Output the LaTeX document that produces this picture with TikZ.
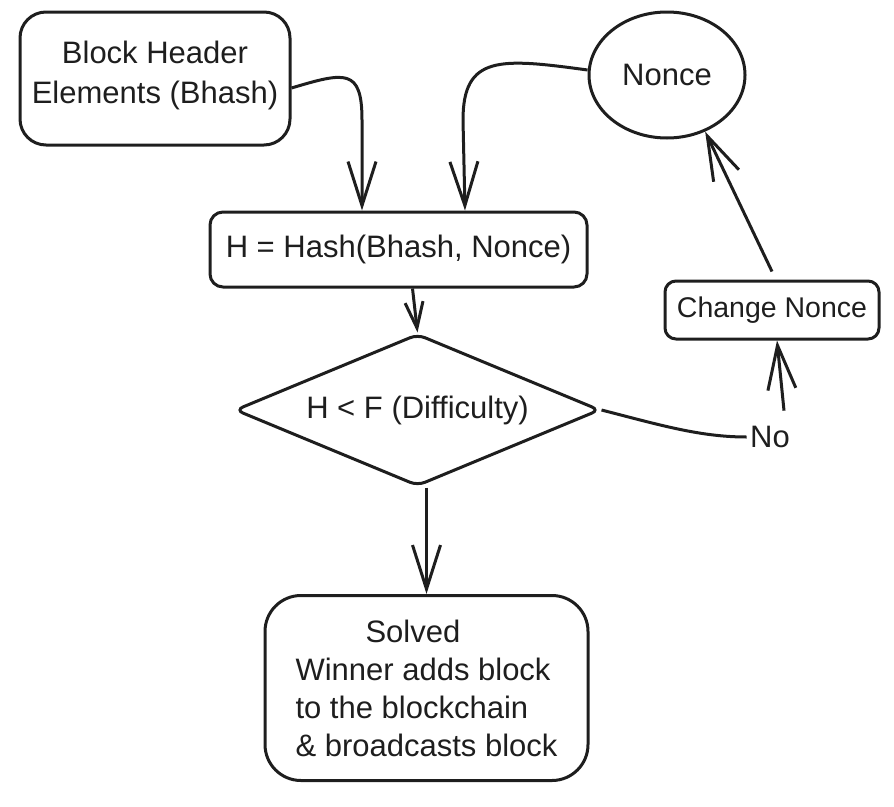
\documentclass[tikz,border=0pt]{standalone}
\usepackage{fontspec}
\setmainfont{Liberation Sans}
\usetikzlibrary{shapes.geometric,arrows.meta}
\definecolor{ink}{HTML}{1E1E1E}
\tikzset{
  every node/.style={font=\fontsize{31}{38}\selectfont, text=ink},
  box/.style={draw=ink, line width=3pt, inner sep=0pt, align=center},
  arr/.style={draw=ink, line width=3pt, -{Straight Barb[length=44pt,width=28pt,line width=3pt]}},
  smallarr/.style={draw=ink, line width=3pt, -{Straight Barb[length=26pt,width=18pt,line width=3pt]}},
  wire/.style={draw=ink, line width=3pt},
}
\begin{document}
\begin{tikzpicture}[x=1pt,y=-1pt]
\useasboundingbox (0,0) rectangle (894,806);
\node[box, rounded corners=26pt, minimum width=270pt, minimum height=133pt] (bh) at (155,78.5) {Block Header\\[2pt]Elements (Bhash)\\[-26pt]};
\node[box, rounded corners=13pt, minimum width=377pt, minimum height=75pt] (hash) at (398.5,249.5) {H = Hash(Bhash, Nonce)};
\node[box, ellipse, minimum width=156pt, minimum height=126pt] (nonce) at (667,75) {Nonce};
\node[box, rounded corners=11pt, minimum width=214pt, minimum height=58pt, font=\fontsize{28.5}{34}\selectfont] (cn) at (772,310) {Change Nonce};
\node[box, diamond, aspect=2.4, rounded corners=8pt, minimum width=365pt, minimum height=152pt] (dia) at (417.5,410) {H < F (Difficulty)};
\node[box, rounded corners=36pt, minimum width=323pt, minimum height=185pt, align=left] (solved) at (426.5,688) {\hspace*{70pt}Solved\\Winner adds block\\to the blockchain\\\& broadcasts block};
\node (no) at (770,437) {No};

\draw[arr] ([yshift=-9.5pt]bh.east) .. controls (345,72) and (362,68) .. (362,120) -- ([xshift=-36.5pt]hash.north);
\draw[arr] ([yshift=5pt]nonce.west) .. controls (500,58) and (463,55) .. (463,120) -- ([xshift=66.5pt]hash.north);
\draw[smallarr] ([xshift=14pt]hash.south) -- (dia.north);
\draw[arr] (dia.south -| solved.north) -- (solved.north);
\draw[wire] (dia.east) .. controls (660,425) and (700,437) .. (no.west);
\draw[arr] ([xshift=14pt,yshift=12pt]no.north) -- ([xshift=5pt]cn.south);
\draw[arr] ([yshift=8pt]cn.north) -- (nonce.-56);
\end{tikzpicture}
\end{document}
